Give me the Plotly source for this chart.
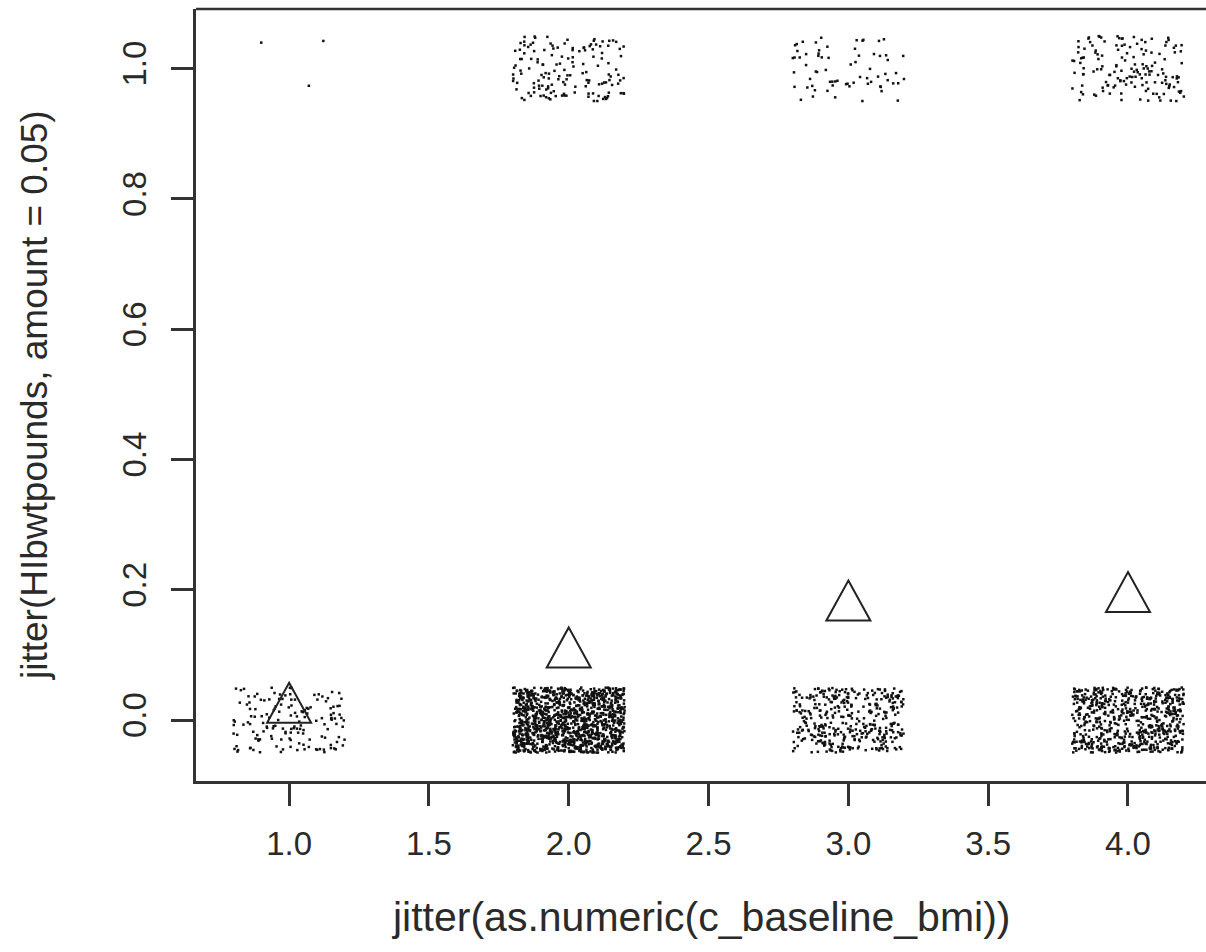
import numpy as np
import plotly.graph_objects as go

# --- data ---
bmi_categories = [1, 2, 3, 4]
n_outcome0 = [150, 1300, 380, 650]    # observations with HIbwtpounds = 0
n_outcome1 = [3, 150, 70, 150]        # observations with HIbwtpounds = 1
group_means = [0.025, 0.11, 0.182, 0.195]  # triangle markers
x_ticks = [1.0, 1.5, 2.0, 2.5, 3.0, 3.5, 4.0]
x_tick_labels = ["1.0", "1.5", "2.0", "2.5", "3.0", "3.5", "4.0"]
y_ticks = [0.0, 0.2, 0.4, 0.6, 0.8, 1.0]
y_tick_labels = ["0.0", "0.2", "0.4", "0.6", "0.8", "1.0"]

# raw (unjittered) observations
raw_x, raw_y = [], []
for c, n0, n1 in zip(bmi_categories, n_outcome0, n_outcome1):
    raw_x += [c] * (n0 + n1)
    raw_y += [0] * n0 + [1] * n1
raw_x = np.array(raw_x, float)
raw_y = np.array(raw_y, float)

# display jitter as in R's jitter(): x amount 0.2 (factor/5 * step), y amount 0.05
rng = np.random.default_rng(7)
jx = raw_x + rng.uniform(-0.2, 0.2, raw_x.size)
jy = raw_y + rng.uniform(-0.05, 0.05, raw_y.size)

FONT = "Liberation Sans, Arial, sans-serif"
TXT = "#2a2a2a"

fig = go.Figure()
fig.add_trace(go.Scatter(
    x=jx, y=jy, mode="markers",
    marker=dict(symbol="square", size=2.5, color="#111111", line=dict(width=0)),
    hoverinfo="skip", showlegend=False))

# open triangles at group means (pixel-sized shapes anchored at data coords)
tri_path = "M0,21 L22,-19 L-22,-19 Z"
shapes = []
for c, m in zip(bmi_categories, group_means):
    shapes.append(dict(type="path", xref="x", yref="y", xsizemode="pixel", ysizemode="pixel",
                       xanchor=c, yanchor=m, path=tri_path,
                       line=dict(color="#222222", width=2), fillcolor="rgba(0,0,0,0)"))
# top border of plot box
shapes.append(dict(type="line", xref="paper", yref="paper", x0=0, x1=1, y0=1, y1=1,
                   line=dict(color="#333333", width=2.5)))
fig.update_layout(shapes=shapes)

fig.update_layout(
    width=1206, height=952,
    margin=dict(l=196, r=0, t=9, b=171),
    paper_bgcolor="white", plot_bgcolor="white",
    font=dict(family=FONT, color=TXT, size=30),
    xaxis=dict(range=[0.667, 4.279], tickvals=x_ticks, ticktext=x_tick_labels,
               showgrid=False, zeroline=False, showline=True, linecolor="#333333", linewidth=2.5,
               ticks="outside", ticklen=22, tickwidth=2.5, tickcolor="#333333",
               tickfont=dict(size=33, family=FONT, color=TXT), ticklabelstandoff=10),
    yaxis=dict(range=[-0.0935, 1.0915], tickvals=y_ticks, ticktext=y_tick_labels,
               showgrid=False, zeroline=False, showline=True, linecolor="#333333", linewidth=2.5,
               ticks="outside", ticklen=22, tickwidth=2.5, tickcolor="#333333", tickangle=-90,
               tickfont=dict(size=33, family=FONT, color=TXT), ticklabelstandoff=12),
    annotations=[
        dict(text="jitter(as.numeric(c_baseline_bmi))", xref="paper", yref="paper",
             x=0.5, y=0, xanchor="center", yanchor="middle", yshift=-136, showarrow=False,
             font=dict(size=41, family=FONT, color=TXT)),
        dict(text="jitter(HIbwtpounds, amount = 0.05)", xref="paper", yref="paper",
             x=0, y=0.5, xanchor="center", yanchor="middle", xshift=-162, textangle=-90,
             showarrow=False, font=dict(size=37, family=FONT, color=TXT)),
    ],
)
fig.write_html("out.html")
